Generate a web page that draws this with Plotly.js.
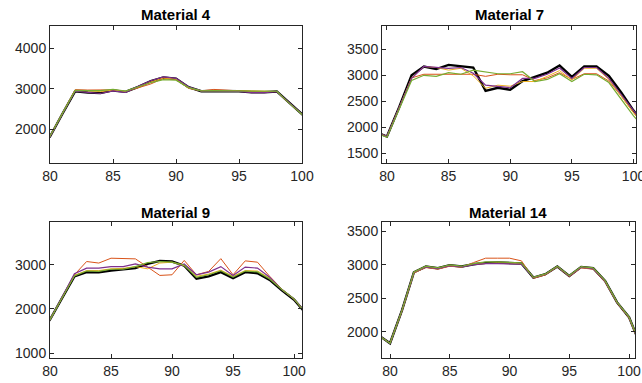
<!DOCTYPE html>
<html>
<head>
<meta charset="utf-8">
<script src="https://cdn.plot.ly/plotly-3.0.1.min.js"></script>
<style>html,body{margin:0;padding:0;background:#fff;overflow:hidden;}#chart{width:642px;height:383px;}</style>
</head>
<body>
<div id="chart"></div>
<script>
// x positions (shared)
const xVals = [79,80,81,82,83,84,85,86,87,88,89,90,91,92,93,94,95,96,97,98,99,100,101];

const titles = ["Material 4", "Material 7", "Material 9", "Material 14"];
const seriesNames = ["S1", "S2", "S3", "S4", "S5"];

// Material 4
const m4_black  = [1500,1820,2390,2940,2910,2895,2960,2925,3050,3190,3280,3250,3040,2940,2945,2945,2940,2915,2915,2935,2650,2370,2100];
const m4_orange = [1500,1830,2400,2980,2970,2970,2975,2930,3020,3120,3260,3230,3010,2950,2985,2960,2950,2945,2945,2930,2640,2360,2100];
const m4_yellow = [1500,1825,2400,2960,2950,2930,2970,2935,3040,3170,3270,3240,3030,2950,2955,2950,2945,2930,2930,2935,2645,2365,2100];
const m4_purple = [1500,1820,2390,2945,2910,2885,2950,2915,3060,3200,3295,3260,3050,2945,2945,2940,2935,2905,2905,2930,2650,2370,2100];
const m4_green  = [1500,1830,2400,2960,2955,2955,2990,2945,3050,3150,3225,3215,3030,2950,2955,2955,2945,2940,2940,2940,2640,2360,2100];

// Material 7
const m7_black  = [1915,1820,2390,3000,3170,3120,3200,3175,3150,2700,2760,2720,2890,2970,3050,3190,2970,3170,3170,2990,2670,2320,2020];
const m7_orange = [1915,1820,2380,2950,3020,3020,3020,3020,3020,2980,3020,3010,3010,2900,2950,3050,2920,3030,3030,2890,2600,2280,2000];
const m7_yellow = [1915,1820,2380,2950,3170,3150,3100,3135,2990,2750,2810,2790,2880,2880,2980,3090,2910,3135,3135,2920,2600,2280,2000];
const m7_purple = [1915,1820,2380,2940,3170,3150,3135,3150,3040,2810,2780,2760,2940,2940,3020,3140,2940,3150,3150,2940,2630,2310,2010];
const m7_green  = [1900,1805,2350,2900,3000,2980,3050,3020,3100,3070,3030,3030,3070,2880,2920,3030,2880,3020,3010,2860,2540,2220,1940];

// Material 9
const m9_black  = [1450,1760,2250,2740,2835,2830,2870,2890,2925,3020,3090,3075,2980,2685,2740,2835,2700,2835,2810,2660,2420,2210,1890];
const m9_orange = [1450,1760,2260,2775,3075,3040,3150,3135,3135,2950,2760,2775,3100,2775,2850,3140,2775,3090,3060,2740,2450,2230,1900];
const m9_yellow = [1450,1760,2260,2760,2870,2870,2910,2920,2960,2910,3040,3060,2980,2740,2790,2880,2740,2870,2860,2700,2440,2220,1890];
const m9_purple = [1450,1760,2270,2800,2925,2925,2960,2960,3020,2950,2910,2910,3020,2775,2835,2960,2760,2950,2925,2720,2440,2230,1900];
const m9_green  = [1450,1760,2255,2750,2860,2850,2900,2900,2960,3050,3075,3060,2990,2715,2775,2865,2720,2860,2840,2680,2440,2230,1890];

// Material 14
const m14_black  = [1955,1830,2320,2890,2975,2950,2995,2975,3010,3030,3035,3030,3020,2810,2860,2975,2835,2970,2950,2760,2440,2220,1780];
const m14_orange = [1955,1830,2310,2880,2960,2935,2980,2965,3035,3100,3100,3100,3060,2800,2850,2970,2825,2955,2935,2745,2430,2210,1770];
const m14_yellow = [1955,1830,2320,2885,2970,2945,2990,2970,3010,3025,3030,3025,3015,2810,2860,2975,2835,2965,2945,2755,2440,2215,1780];
const m14_purple = [1955,1830,2320,2890,2970,2945,2990,2970,3005,3020,3020,3020,3010,2810,2860,2975,2835,2965,2945,2755,2440,2220,1780];
const m14_green  = [1955,1830,2320,2895,2980,2955,3000,2980,3020,3045,3045,3040,3030,2815,2865,2980,2840,2975,2955,2765,2445,2225,1785];

const xTicks = [80,85,90,95,100];
const yTicks1 = [2000,3000,4000];
const yTicks2 = [1500,2000,2500,3000,3500];
const yTicks3 = [1000,2000,3000];
const yTicks4 = [2000,2500,3000,3500];

const colors = ["#000000", "#D95319", "#EDB120", "#7E2F8E", "#77AC30"];
const widths = [2.4, 1, 1, 1.2, 1.2];

const panels = [
  [m4_black, m4_orange, m4_yellow, m4_purple, m4_green],
  [m7_black, m7_orange, m7_yellow, m7_purple, m7_green],
  [m9_black, m9_orange, m9_yellow, m9_purple, m9_green],
  [m14_black, m14_orange, m14_yellow, m14_purple, m14_green]
];

const traces = [];
panels.forEach((series, p) => {
  const suffix = p === 0 ? "" : String(p + 1);
  series.forEach((ys, s) => {
    traces.push({
      x: xVals, y: ys, type: "scatter", mode: "lines",
      name: seriesNames[s], showlegend: false,
      line: {color: colors[s], width: widths[s]},
      xaxis: "x" + suffix, yaxis: "y" + suffix,
      hoverinfo: "skip"
    });
  });
});

const W = 642, H = 383;
const fontFam = "'Liberation Sans', Arial, Helvetica, sans-serif";
function xAx(l, r, range, anchor) {
  return {
    domain: [l / W, r / W], range: range, anchor: anchor,
    tickvals: xTicks, ticks: "inside", ticklen: 4, tickwidth: 1, tickcolor: "#262626",
    showline: true, linecolor: "#262626", linewidth: 1, mirror: "ticks",
    showgrid: false, zeroline: false, ticklabeloverflow: "allow",
    tickfont: {family: fontFam, size: 14, color: "#262626"}
  };
}
function yAx(top, bot, range, ticks, anchor) {
  return {
    domain: [(H - bot) / H, (H - top) / H], range: range, anchor: anchor,
    tickvals: ticks, ticks: "inside", ticklen: 4, tickwidth: 1, tickcolor: "#262626",
    showline: true, linecolor: "#262626", linewidth: 1, mirror: "ticks",
    showgrid: false, zeroline: false,
    tickfont: {family: fontFam, size: 14, color: "#262626"}
  };
}

const titleY = [15, 15, 212, 212];
const titleX = [176, 509, 176, 508.5];

const layout = {
  width: W, height: H,
  margin: {l: 0, r: 0, t: 0, b: 0},
  paper_bgcolor: "#ffffff", plot_bgcolor: "#ffffff",
  showlegend: false,
  xaxis:  xAx(50, 302, [80, 100], "y"),
  yaxis:  yAx(26, 163, [1170, 4550], yTicks1, "x"),
  xaxis2: xAx(382, 636, [79.6, 100.2], "y2"),
  yaxis2: yAx(26, 163, [1310, 3950], yTicks2, "x2"),
  xaxis3: xAx(50, 302, [80, 100.65], "y3"),
  yaxis3: yAx(222, 358, [890, 3970], yTicks3, "x3"),
  xaxis4: xAx(382, 635, [79.33, 100.5], "y4"),
  yaxis4: yAx(222, 358, [1610, 3640], yTicks4, "x4"),
  annotations: titles.map((t, i) => ({
    text: "<b>" + t + "</b>", xref: "paper", yref: "paper",
    x: titleX[i] / W, y: (H - titleY[i]) / H, xanchor: "center", yanchor: "middle",
    showarrow: false, font: {family: fontFam, size: 15, color: "#000000"}
  }))
};

Plotly.newPlot("chart", traces, layout, {staticPlot: true, displayModeBar: false});
</script>
</body>
</html>
